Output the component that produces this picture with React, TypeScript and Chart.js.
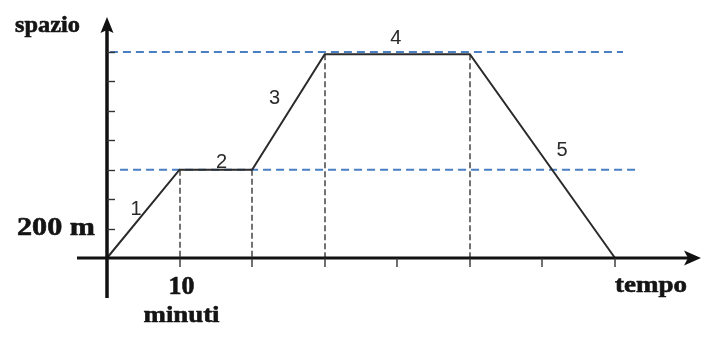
import React, { useEffect, useRef } from "react";
import { Chart, registerables } from "chart.js";

Chart.register(...registerables);

// Data (minutes, metres)
const times = [0, 10, 20, 30, 50, 70];
const distances = [0, 600, 600, 1385, 1385, 0];
const segmentLabels = ["1", "2", "3", "4", "5"];
const guideLevels = [600, 1400];
const dropTimes = [10, 20, 30, 50];
const xTicks = [10, 20, 30, 40, 50, 60, 70];
const yTicks = [200, 400, 600, 800, 1000, 1200, 1400];
const yAxisTitle = "spazio";
const xAxisTitle = "tempo";
const xUnit = "minuti";
const xTickLabel = "10";
const yTickLabel = "200 m";

function stretchText(
  ctx: CanvasRenderingContext2D,
  text: string,
  left: number,
  baseline: number,
  font: string,
  targetWidth: number,
  color: string
) {
  ctx.save();
  ctx.font = font;
  ctx.fillStyle = color;
  ctx.strokeStyle = color;
  ctx.lineWidth = 0.6;
  ctx.textAlign = "left";
  ctx.textBaseline = "alphabetic";
  const w = ctx.measureText(text).width || 1;
  ctx.translate(left, baseline);
  ctx.scale(targetWidth / w, 1);
  ctx.fillText(text, 0, 0);
  ctx.strokeText(text, 0, 0);
  ctx.restore();
}

const diagramPlugin = {
  id: "diagram",
  beforeDatasetsDraw(chart: any) {
    const ctx: CanvasRenderingContext2D = chart.ctx;
    const xs = chart.scales.x;
    const ys = chart.scales.y;
    const y0 = ys.getPixelForValue(0);
    ctx.save();
    // grey vertical drop lines
    ctx.strokeStyle = "#505050";
    ctx.lineWidth = 1.6;
    ctx.setLineDash([6, 3]);
    dropTimes.forEach((t) => {
      const i = times.indexOf(t);
      const px = Math.round(xs.getPixelForValue(t));
      ctx.beginPath();
      ctx.moveTo(px, ys.getPixelForValue(distances[i]));
      ctx.lineTo(px, y0);
      ctx.stroke();
    });
    // blue horizontal guides
    ctx.strokeStyle = "#4a7fc3";
    ctx.lineWidth = 2;
    ctx.setLineDash([8, 5]);
    const extents = [
      [1.8, 73.0],
      [0.4, 71.1],
    ];
    guideLevels.forEach((lvl, k) => {
      const py = ys.getPixelForValue(lvl);
      ctx.beginPath();
      ctx.moveTo(xs.getPixelForValue(extents[k][0]), py);
      ctx.lineTo(xs.getPixelForValue(extents[k][1]), py);
      ctx.stroke();
    });
    ctx.restore();
  },
  afterDatasetsDraw(chart: any) {
    const ctx: CanvasRenderingContext2D = chart.ctx;
    const xs = chart.scales.x;
    const ys = chart.scales.y;
    const x0 = xs.getPixelForValue(0);
    const y0 = ys.getPixelForValue(0);
    ctx.save();
    ctx.setLineDash([]);
    ctx.strokeStyle = "#111";
    ctx.fillStyle = "#111";

    // y axis
    ctx.lineWidth = 3.5;
    ctx.beginPath();
    ctx.moveTo(x0, 298);
    ctx.lineTo(x0, 30);
    ctx.stroke();
    ctx.beginPath();
    ctx.moveTo(x0, 17);
    ctx.lineTo(x0 - 6.5, 33);
    ctx.lineTo(x0, 30);
    ctx.lineTo(x0 + 6.5, 33);
    ctx.closePath();
    ctx.fill();

    // x axis
    ctx.lineWidth = 3;
    ctx.beginPath();
    ctx.moveTo(77, y0);
    ctx.lineTo(688, y0);
    ctx.stroke();
    ctx.beginPath();
    ctx.moveTo(701, y0);
    ctx.lineTo(684, y0 - 7.5);
    ctx.lineTo(688, y0);
    ctx.lineTo(684, y0 + 7.5);
    ctx.closePath();
    ctx.fill();

    // ticks
    ctx.lineWidth = 1.4;
    ctx.strokeStyle = "#333";
    yTicks.forEach((v) => {
      const py = Math.round(ys.getPixelForValue(v)) + 0.5;
      ctx.beginPath();
      ctx.moveTo(x0, py);
      ctx.lineTo(x0 + 8, py);
      ctx.stroke();
    });
    xTicks.forEach((v) => {
      const px = Math.round(xs.getPixelForValue(v));
      ctx.beginPath();
      ctx.moveTo(px, y0);
      ctx.lineTo(px, y0 + 9);
      ctx.stroke();
    });
    ctx.restore();

    // serif labels
    const dark = "#141414";
    const f = (s: number) => `bold ${s}px 'Liberation Serif', 'DejaVu Serif', serif`;
    stretchText(ctx, yAxisTitle, 15, 32, f(23), 65, dark);
    stretchText(ctx, yTickLabel, 17, ys.getPixelForValue(200) + 6.5, f(26), 78, dark);
    const px10 = xs.getPixelForValue(10);
    stretchText(ctx, xTickLabel, px10 - 11, 294, f(26), 26, dark);
    stretchText(ctx, xUnit, px10 - 36, 322, f(24), 76, dark);
    stretchText(ctx, xAxisTitle, 615, 292, f(23), 72, dark);

    // segment numbers
    const segPos = [
      [4.0, 292],
      [15.8, 612],
      [23.1, 1047],
      [39.8, 1455],
      [62.7, 693],
    ];
    ctx.save();
    ctx.font = "20px 'Liberation Sans', Arial, sans-serif";
    ctx.fillStyle = "#2a2a2a";
    ctx.textAlign = "center";
    ctx.textBaseline = "alphabetic";
    segmentLabels.forEach((lab, i) => {
      ctx.fillText(lab, xs.getPixelForValue(segPos[i][0]), ys.getPixelForValue(segPos[i][1]));
    });
    ctx.restore();
  },
};

export default function App() {
  const ref = useRef<HTMLCanvasElement | null>(null);
  useEffect(() => {
    if (!ref.current) return;
    const chart = new Chart(ref.current, {
      type: "line",
      data: {
        datasets: [
          {
            data: times.map((t, i) => ({ x: t, y: distances[i] })),
            borderColor: "#2b2b2b",
            borderWidth: 2,
            pointRadius: 0,
            tension: 0,
            fill: false,
            clip: false as any,
          },
        ],
      },
      options: {
        animation: false,
        responsive: false,
        devicePixelRatio: 1,
        layout: { padding: { left: 107, right: 100, top: 52, bottom: 80 } },
        plugins: {
          legend: { display: false },
          tooltip: { enabled: false },
        },
        scales: {
          x: { type: "linear", min: 0, max: 70, display: false },
          y: { type: "linear", min: 0, max: 1400, display: false },
        },
      },
      plugins: [diagramPlugin],
    });
    return () => chart.destroy();
  }, []);
  return (
    <div style={{ position: "fixed", left: 0, top: 0, width: 715, height: 338, background: "#fff" }}>
      <canvas ref={ref} width={715} height={338} />
    </div>
  );
}
